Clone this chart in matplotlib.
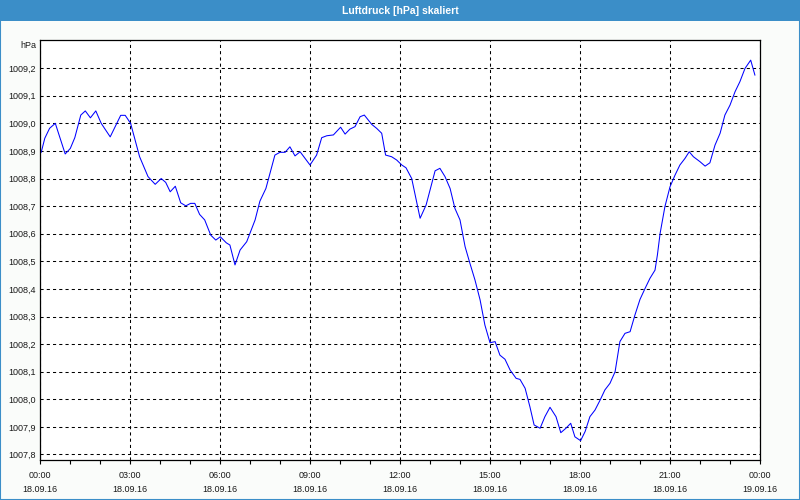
import matplotlib
matplotlib.use('Agg')
import matplotlib.pyplot as plt
from matplotlib.patches import Rectangle
from matplotlib.ticker import FixedLocator, MultipleLocator, FuncFormatter

#%% data (hours since 18.09.16 00:00, hPa)

title = 'Luftdruck [hPa] skaliert'
unit = 'hPa'

hours = [0.04, 0.16, 0.32, 0.51, 0.84, 1.01, 1.16, 1.36, 1.51, 1.68,
         1.86, 2.04, 2.34, 2.69, 2.84, 3.02, 3.32, 3.60, 3.84, 4.04,
         4.19, 4.34, 4.51, 4.69, 4.86, 5.02, 5.16, 5.32, 5.49, 5.69,
         5.86, 6.01, 6.21, 6.33, 6.50, 6.67, 6.89, 7.17, 7.33, 7.53,
         7.83, 8.00, 8.17, 8.33, 8.50, 8.67, 9.00, 9.22, 9.39, 9.56,
         9.78, 10.02, 10.17, 10.33, 10.50, 10.67, 10.81, 11.06, 11.22, 11.39,
         11.52, 11.72, 11.89, 12.06, 12.20, 12.39, 12.67, 12.87, 13.17, 13.33,
         13.50, 13.67, 13.83, 14.00, 14.17, 14.33, 14.50, 14.67, 14.83, 15.00,
         15.17, 15.33, 15.50, 15.67, 15.87, 16.00, 16.17, 16.33, 16.47, 16.67,
         16.83, 17.00, 17.20, 17.36, 17.53, 17.69, 17.83, 18.02, 18.17, 18.33,
         18.50, 18.67, 18.83, 19.00, 19.17, 19.33, 19.50, 19.67, 19.83, 20.00,
         20.17, 20.33, 20.50, 20.58, 20.67, 20.83, 21.00, 21.17, 21.33, 21.50,
         21.64, 21.78, 22.00, 22.17, 22.33, 22.50, 22.67, 22.83, 23.00, 23.17,
         23.33, 23.50, 23.69, 23.83]

pressure = [1008.895, 1008.946, 1008.982, 1009.000, 1008.889, 1008.909, 1008.948, 1009.030, 1009.045, 1009.020,
            1009.045, 1009.000, 1008.951, 1009.029, 1009.029, 1009.000, 1008.879, 1008.807, 1008.779, 1008.800,
            1008.786, 1008.752, 1008.772, 1008.712, 1008.701, 1008.710, 1008.710, 1008.670, 1008.650, 1008.595,
            1008.577, 1008.589, 1008.567, 1008.559, 1008.487, 1008.541, 1008.571, 1008.650, 1008.718, 1008.764,
            1008.885, 1008.895, 1008.895, 1008.915, 1008.882, 1008.897, 1008.849, 1008.885, 1008.948, 1008.955,
            1008.958, 1008.986, 1008.961, 1008.979, 1008.988, 1009.024, 1009.030, 1008.996, 1008.982, 1008.964,
            1008.885, 1008.879, 1008.867, 1008.849, 1008.839, 1008.800, 1008.656, 1008.704, 1008.828, 1008.837,
            1008.807, 1008.764, 1008.692, 1008.650, 1008.553, 1008.493, 1008.432, 1008.360, 1008.269, 1008.205,
            1008.209, 1008.160, 1008.145, 1008.106, 1008.076, 1008.072, 1008.040, 1007.973, 1007.907, 1007.895,
            1007.937, 1007.971, 1007.937, 1007.879, 1007.895, 1007.913, 1007.864, 1007.850, 1007.883, 1007.937,
            1007.961, 1007.997, 1008.034, 1008.058, 1008.100, 1008.209, 1008.239, 1008.245, 1008.305, 1008.362,
            1008.402, 1008.438, 1008.468, 1008.523, 1008.601, 1008.698, 1008.770, 1008.813, 1008.849, 1008.873,
            1008.897, 1008.879, 1008.861, 1008.845, 1008.857, 1008.921, 1008.964, 1009.030, 1009.066, 1009.115,
            1009.151, 1009.199, 1009.229, 1009.175]

tick_hours = [0, 3, 6, 9, 12, 15, 18, 21, 24]
tick_labels = ['00:00\n18.09.16', '03:00\n18.09.16', '06:00\n18.09.16',
               '09:00\n18.09.16', '12:00\n18.09.16', '15:00\n18.09.16',
               '18:00\n18.09.16', '21:00\n18.09.16', '00:00\n19.09.16']

y_ticks = [1007.8, 1007.9, 1008.0, 1008.1, 1008.2, 1008.3, 1008.4, 1008.5,
           1008.6, 1008.7, 1008.8, 1008.9, 1009.0, 1009.1, 1009.2]

#%% figure frame with title bar

W, H = 800, 500
bar_blue = '#3b8ec8'
txt_col = '#1a1a1a'
font = 'Liberation Sans'

fig = plt.figure(figsize=(8, 5), dpi=100)
fig.patch.set_facecolor('#fafcfa')
fig.add_artist(Rectangle((0, 1 - 21/H), 1, 21/H, transform=fig.transFigure,
                         facecolor=bar_blue, edgecolor='none', zorder=0))
fig.add_artist(Rectangle((0, 0), 1, 1, transform=fig.transFigure, fill=False,
                         edgecolor=bar_blue, linewidth=1.5, zorder=5))
fig.text(0.5, 1 - 10.5/H, title, ha='center', va='center', color='white',
         fontweight='bold', fontsize=7.5, family=font)

#%% plot area

ax = fig.add_axes([40/W, 40/H, 720/W, 420/H])
ax.set_facecolor('white')
ax.plot(hours, pressure, color='#0000ff', linewidth=0.75)

ax.set_xlim(0, 24)
ax.set_ylim(1007.78, 1009.302)

ax.xaxis.set_major_locator(FixedLocator(tick_hours))
ax.set_xticklabels(tick_labels, fontsize=6.5, family=font, color=txt_col, linespacing=1.75)
ax.xaxis.set_minor_locator(MultipleLocator(1))
ax.tick_params(axis='x', which='both', direction='out', length=3, width=0.8, pad=5, color='black')

ax.yaxis.set_major_locator(FixedLocator(y_ticks))
ax.yaxis.set_major_formatter(FuncFormatter(lambda v, p: ('%.1f' % v).replace('.', ',')))
ax.tick_params(axis='y', length=0, pad=3, labelsize=6.5, labelcolor=txt_col)
for lab in ax.get_yticklabels():
    lab.set_family(font)

ax.grid(True, which='major', color='black', linewidth=0.75, linestyle=(0, (3, 3)))

for s in ax.spines.values():
    s.set_color('black')
    s.set_linewidth(0.9)

fig.text(36/W, 1 - 45/H, unit, ha='right', va='center', fontsize=6.5,
         family=font, color=txt_col)

plt.savefig('out.png', dpi=100, facecolor=fig.get_facecolor())
